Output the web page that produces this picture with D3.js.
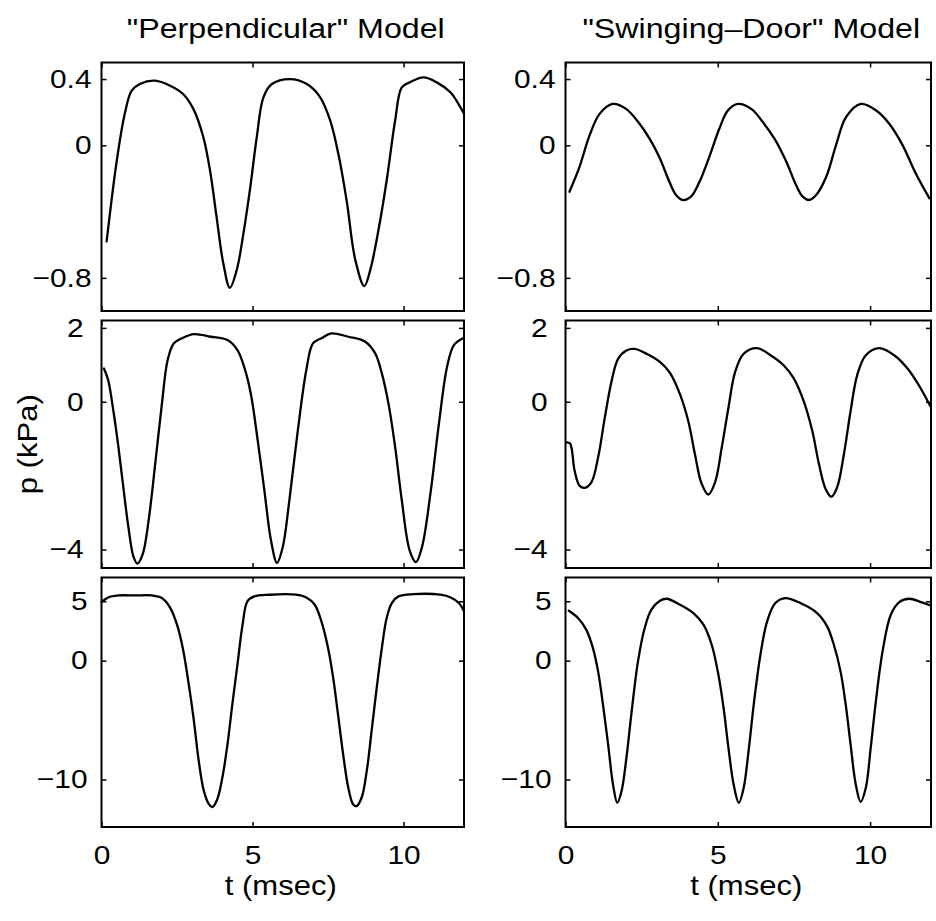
<!DOCTYPE html>
<html>
<head>
<meta charset="utf-8">
<script src="https://cdn.jsdelivr.net/npm/d3@7"></script>
<style>
body{margin:0;background:#fff}
svg text{font-family:"Liberation Sans",Arial,Helvetica,sans-serif;fill:#000}
</style>
</head>
<body>
<svg id="chart" width="936" height="921"></svg>
<script>
// shared time axis (msec)
var timeDomain = [0, 12]
var timeTicks = [0, 5, 10]

var titles = ['"Perpendicular" Model', '"Swinging\u2013Door" Model']
var xTitle = "t (msec)"
var yTitle = "p (kPa)"

// one y range + tick set per row
var rowDomains = [[-1.0, 0.5], [-4.5, 2.2], [-14, 7]]
var rowTicks = [[0.4, 0, -0.8], [2, 0, -4], [5, 0, -10]]

// pressure traces, [t (msec), p (kPa)]
var perpTop = [[0.17,-0.58],[0.5,-0.1],[0.77,0.19],[1.0,0.33],[1.27,0.37],[1.77,0.39],[2.27,0.36],[2.7,0.31],[3.04,0.22],[3.37,0.05],[3.6,-0.16],[3.8,-0.42],[4.03,-0.71],[4.25,-0.86],[4.48,-0.75],[4.7,-0.53],[4.92,-0.26],[5.14,0.05],[5.36,0.29],[5.64,0.37],[6.24,0.40],[6.8,0.37],[7.24,0.29],[7.57,0.15],[7.85,-0.06],[8.12,-0.34],[8.4,-0.69],[8.7,-0.85],[8.9,-0.75],[9.17,-0.51],[9.45,-0.20],[9.72,0.15],[9.94,0.35],[10.2,0.38],[10.66,0.41],[11.1,0.38],[11.55,0.32],[11.88,0.23],[12.0,0.19]]
var swingTop = [[0.13,-0.28],[0.46,-0.13],[0.79,0.06],[1.12,0.19],[1.55,0.25],[1.99,0.22],[2.43,0.13],[2.76,0.04],[3.09,-0.075],[3.41,-0.22],[3.63,-0.30],[3.85,-0.33],[4.12,-0.31],[4.4,-0.22],[4.73,-0.065],[5.05,0.10],[5.33,0.21],[5.66,0.25],[6.1,0.22],[6.48,0.14],[6.86,0.04],[7.24,-0.095],[7.57,-0.24],[7.79,-0.31],[7.99,-0.33],[8.23,-0.30],[8.56,-0.19],[8.88,0.0],[9.21,0.17],[9.7,0.25],[10.2,0.21],[10.63,0.13],[11.07,0.0],[11.5,-0.17],[11.95,-0.32]]
var perpMid = [[0.08,0.90],[0.22,0.59],[0.39,-0.23],[0.56,-1.22],[0.72,-2.30],[0.89,-3.39],[1.06,-4.2],[1.19,-4.38],[1.37,-4.11],[1.56,-3.21],[1.78,-1.67],[2.0,-0.05],[2.19,1.13],[2.39,1.58],[2.67,1.72],[3.06,1.83],[3.61,1.76],[4.17,1.67],[4.5,1.40],[4.72,0.95],[4.94,0.23],[5.17,-1.04],[5.39,-2.39],[5.61,-3.75],[5.81,-4.36],[6.0,-3.93],[6.22,-2.66],[6.5,-0.77],[6.78,0.86],[7.0,1.58],[7.28,1.72],[7.61,1.85],[8.17,1.76],[8.72,1.63],[9.06,1.31],[9.28,0.77],[9.5,-0.05],[9.72,-1.22],[9.94,-2.66],[10.2,-4.02],[10.41,-4.34],[10.61,-3.93],[10.89,-2.48],[11.17,-0.59],[11.44,0.95],[11.67,1.54],[11.97,1.72]]
var swingMid = [[0.04,-1.10],[0.15,-1.13],[0.3,-1.87],[0.46,-2.27],[0.63,-2.33],[0.85,-2.18],[1.07,-1.51],[1.29,-0.43],[1.51,0.55],[1.73,1.17],[2.0,1.39],[2.27,1.43],[2.66,1.30],[3.1,1.08],[3.43,0.78],[3.76,0.20],[4.03,-0.52],[4.25,-1.42],[4.47,-2.22],[4.69,-2.51],[4.91,-2.18],[5.13,-1.24],[5.35,-0.16],[5.57,0.81],[5.85,1.30],[6.29,1.45],[6.73,1.26],[7.16,0.99],[7.49,0.64],[7.82,0.02],[8.1,-0.78],[8.32,-1.68],[8.54,-2.36],[8.73,-2.57],[8.92,-2.31],[9.14,-1.42],[9.36,-0.25],[9.58,0.73],[9.86,1.26],[10.3,1.45],[10.79,1.26],[11.23,0.90],[11.62,0.42],[11.98,-0.12]]
var perpBot = [[0,4.93],[0.22,5.32],[0.56,5.49],[1.11,5.49],[1.67,5.49],[2.0,5.27],[2.28,4.43],[2.5,3.03],[2.69,1.06],[2.89,-2.02],[3.06,-5.10],[3.22,-8.46],[3.39,-10.98],[3.56,-12.10],[3.67,-12.32],[3.83,-11.68],[4.0,-9.86],[4.17,-7.06],[4.33,-3.70],[4.5,-0.34],[4.67,3.03],[4.83,4.99],[5.06,5.41],[5.56,5.55],[6.44,5.55],[6.78,5.32],[7.06,4.71],[7.28,3.31],[7.5,1.06],[7.67,-1.46],[7.83,-4.54],[8.0,-7.90],[8.17,-10.70],[8.33,-12.10],[8.44,-12.24],[8.61,-11.54],[8.78,-9.30],[8.94,-5.94],[9.11,-2.30],[9.28,1.06],[9.44,3.59],[9.61,4.85],[9.83,5.41],[10.33,5.60],[11.22,5.55],[11.56,5.32],[11.83,4.85],[12.0,4.15]]
var swingBot = [[0.11,4.20],[0.41,3.59],[0.68,2.61],[0.9,1.06],[1.07,-0.90],[1.23,-3.70],[1.4,-7.06],[1.56,-10.42],[1.7,-11.96],[1.84,-10.98],[2.0,-8.18],[2.16,-4.54],[2.38,-0.06],[2.6,2.75],[2.82,4.29],[3.1,5.04],[3.32,5.21],[3.76,4.71],[4.2,4.01],[4.53,3.03],[4.8,1.34],[5.02,-1.18],[5.19,-3.98],[5.35,-7.34],[5.52,-10.42],[5.69,-11.96],[5.85,-10.70],[6.01,-7.62],[6.18,-3.70],[6.4,0.50],[6.62,3.31],[6.89,4.85],[7.22,5.27],[7.71,4.85],[8.26,4.01],[8.59,2.89],[8.81,1.34],[9.03,-0.90],[9.2,-3.70],[9.36,-7.06],[9.53,-10.42],[9.69,-11.88],[9.86,-10.70],[10.02,-7.34],[10.19,-3.42],[10.41,0.78],[10.68,3.87],[10.96,4.93],[11.29,5.21],[11.67,4.93],[11.98,4.65]]

// page layout
var colLeft = [101.5, 565.5], colRight = [464, 931]
var rowTop = [62.5, 320.5, 577.5], rowBottom = [311, 568, 827]
var labelGap = [10, 18, 14]
var stretch = 1.15   // the scanned type is wider than Helvetica

var panels = [
  {col:0, row:0, data:perpTop}, {col:1, row:0, data:swingTop},
  {col:0, row:1, data:perpMid}, {col:1, row:1, data:swingMid},
  {col:0, row:2, data:perpBot}, {col:1, row:2, data:swingBot}
]

var svg = d3.select("#chart")

function fmt(d){
  return d < 0 ? "\u2212" + Math.abs(d) : String(d)
}

function wide(sel){
  sel.attr("transform", "scale(" + stretch + ",1)")
}

panels.forEach(function(p){
  var x = d3.scaleLinear().domain(timeDomain).range([colLeft[p.col], colRight[p.col]])
  var y = d3.scaleLinear().domain(rowDomains[p.row]).range([rowBottom[p.row], rowTop[p.row]])
  var g = svg.append("g")
  var x0 = x.range()[0], x1 = x.range()[1], y0 = y.range()[0], y1 = y.range()[1]

  var yl = g.append("g").attr("transform", "translate(" + x0 + ",0)")
    .call(d3.axisLeft(y).tickValues(rowTicks[p.row]).tickSizeInner(-5).tickSizeOuter(0)
      .tickPadding(labelGap[p.row] / stretch).tickFormat(fmt))
  g.append("g").attr("transform", "translate(" + x1 + ",0)")
    .call(d3.axisRight(y).tickValues(rowTicks[p.row]).tickSizeInner(-5).tickSizeOuter(0).tickFormat(""))
  g.append("g").attr("transform", "translate(0," + y1 + ")")
    .call(d3.axisTop(x).tickValues(timeTicks).tickSizeInner(-5).tickSizeOuter(0).tickFormat(""))
  var xb = g.append("g").attr("transform", "translate(0," + y0 + ")")
    .call(d3.axisBottom(x).tickValues(timeTicks).tickSizeInner(-5).tickSizeOuter(0)
      .tickPadding(19).tickFormat(p.row == 2 ? String : ""))

  g.selectAll(".domain").remove()
  g.selectAll(".tick line").attr("stroke", "#000").attr("stroke-width", 1.5)
  g.selectAll("g").attr("font-family", null).attr("font-size", 26)
  yl.selectAll("text").call(wide)
  xb.selectAll("text").each(function(){
    var t = d3.select(this)
    t.attr("transform", "translate(" + (+t.attr("x") || 0) * (1 - stretch) + ",0) scale(" + stretch + ",1)")
  })

  g.append("rect").attr("x", x0).attr("y", y1).attr("width", x1 - x0).attr("height", y0 - y1)
    .attr("fill", "none").attr("stroke", "#000").attr("stroke-width", 2)

  var line = d3.line().x(function(d){ return x(d[0]) }).y(function(d){ return y(d[1]) })
    .curve(d3.curveCatmullRom.alpha(0.5))
  g.append("path").datum(p.data).attr("d", line)
    .attr("fill", "none").attr("stroke", "#000").attr("stroke-width", 2.3)
    .attr("stroke-linejoin", "round").attr("stroke-linecap", "round")
})

// titles and axis names
titles.forEach(function(t, i){
  var cx = (colLeft[i] + colRight[i]) / 2 + 3
  svg.append("text").text(t).attr("font-size", 28).attr("text-anchor", "middle")
    .attr("transform", "translate(" + cx + ",38) scale(" + stretch + ",1)")
  svg.append("text").text(xTitle).attr("font-size", 27).attr("text-anchor", "middle")
    .attr("transform", "translate(" + (cx - 5) + ",895) scale(" + stretch + ",1)")
})
svg.append("text").text(yTitle).attr("font-size", 27).attr("text-anchor", "middle")
  .attr("transform", "translate(37," + (rowTop[1] + rowBottom[1]) / 2 + ") rotate(-90) scale(" + stretch + ",1)")
</script>
</body>
</html>
